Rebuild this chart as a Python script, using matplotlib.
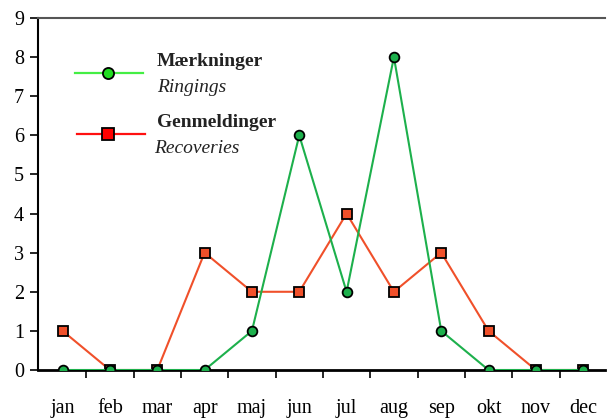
import matplotlib.pyplot as plt
from matplotlib.lines import Line2D

plt.rcParams['font.family'] = ['Liberation Serif', 'DejaVu Serif']

months = ['jan', 'feb', 'mar', 'apr', 'maj', 'jun', 'jul', 'aug', 'sep', 'okt', 'nov', 'dec']
ringings = [0, 0, 0, 0, 1, 6, 2, 8, 1, 0, 0, 0]
recoveries = [1, 0, 0, 3, 2, 2, 4, 2, 3, 1, 0, 0]

fig = plt.figure(figsize=(6.07, 4.18), dpi=100)
ax = fig.add_axes([38 / 607, 1 - 370 / 418, 567 / 607, 352 / 418])

x = list(range(len(months)))
ax.plot(x, recoveries, color='#f0502a', lw=1.5, marker='s', ms=7,
        mfc='#f0502a', mec='black', mew=1.3, zorder=3)
ax.plot(x, ringings, color='#1db04c', lw=1.5, marker='o', ms=7,
        mfc='#1db04c', mec='black', mew=1.3, zorder=4)

ax.set_xlim(-0.52, 11.46)
ax.set_ylim(0, 9)
ax.set_yticks(range(10))
ax.set_xticks(x)
ax.set_xticklabels(months)
ax.set_xticks([i + 0.5 for i in range(11)], minor=True)
ax.tick_params(axis='x', which='major', length=0, pad=21, labelsize=14.5)
ax.tick_params(axis='x', which='minor', length=6, width=1.2, direction='out')
ax.tick_params(axis='y', length=6, width=1.2, direction='out', labelsize=14.5, pad=4)

ax.spines['right'].set_visible(False)
ax.spines['top'].set_color('#555555')
ax.spines['top'].set_linewidth(1.5)
ax.spines['left'].set_linewidth(1.5)
ax.spines['bottom'].set_linewidth(2)
ax.spines['bottom'].set_zorder(2)

# legend drawn by hand (two-line labels)
def fx(px):
    return px / 607

def fy(py):
    return 1 - py / 418

fig.add_artist(Line2D([fx(75), fx(143)], [fy(73), fy(73)], color='#44ee44', lw=1.6))
fig.add_artist(Line2D([fx(108)], [fy(73)], marker='o', ms=8, mfc='#22dd22', mec='black', mew=1.3))
fig.add_artist(Line2D([fx(77), fx(145)], [fy(134), fy(134)], color='#ff1010', lw=1.6))
fig.add_artist(Line2D([fx(108)], [fy(134)], marker='s', ms=8, mfc='#ff0000', mec='black', mew=1.3))

fig.text(fx(157), fy(62), 'Mærkninger', fontsize=14, fontweight='bold', va='center', color='#222222')
fig.text(fx(157), fy(88), 'Ringings', fontsize=14, style='italic', va='center', color='#222222')
fig.text(fx(157), fy(123), 'Genmeldinger', fontsize=14, fontweight='bold', va='center', color='#222222')
fig.text(fx(154), fy(149), 'Recoveries', fontsize=14, style='italic', va='center', color='#222222')

fig.savefig('out.png', dpi=100)
